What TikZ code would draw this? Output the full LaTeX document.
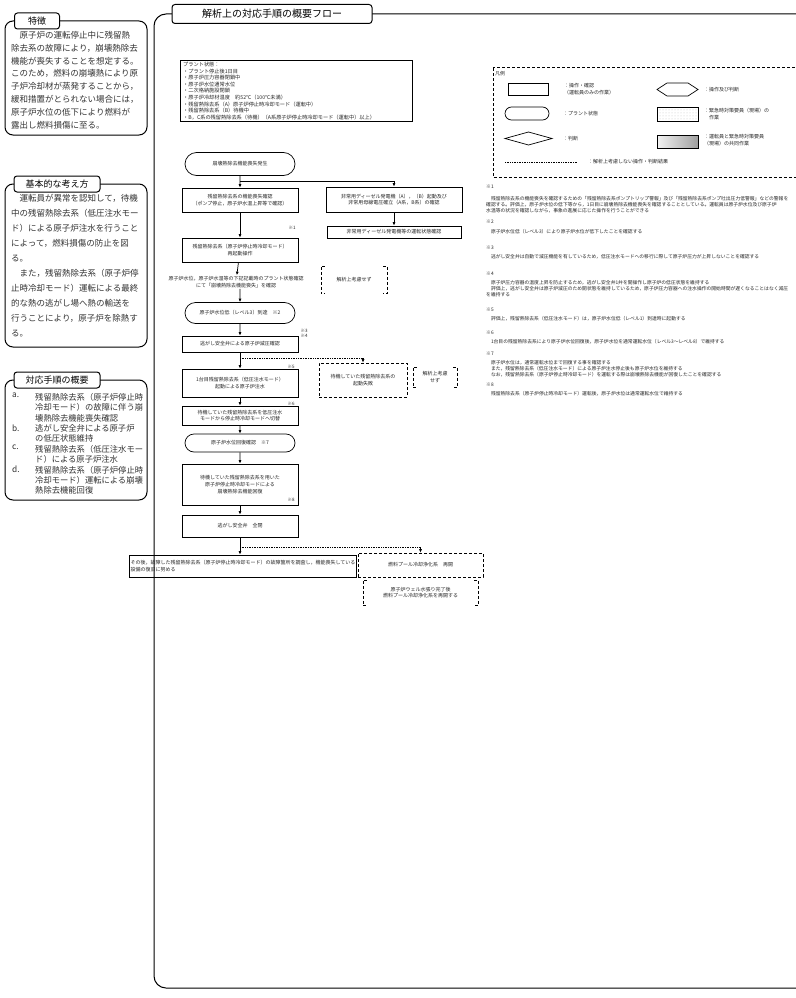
\documentclass[tikz,border=0pt]{standalone}
\usepackage{fontspec}
\setmainfont{Noto Sans CJK JP}
\usetikzlibrary{arrows.meta,shapes.geometric,shapes.misc,patterns}
\begin{document}
\begin{tikzpicture}[x=1pt,y=-1pt,
  panel/.style={draw,line width=1pt,rounded corners=8pt},
  tabbox/.style={draw,fill=white,line width=1pt,rounded corners=3pt,inner sep=0pt,font=\fontsize{9}{10}\selectfont},
  ptext/.style={anchor=north west,align=left,inner sep=0pt,text=black!80,font=\fontsize{8.5}{13}\selectfont},
  fbox/.style={draw,line width=0.7pt,align=center,inner sep=1pt,text=black!85,font=\fontsize{5}{6.6}\selectfont},
  stad/.style={draw,line width=0.7pt,rounded rectangle,minimum width=112pt,align=center,inner sep=1pt,text=black!85,font=\fontsize{5}{6.6}\selectfont},
  dbox/.style={draw,densely dashed,line width=0.6pt,align=center,inner sep=1pt,text=black!85,font=\fontsize{5}{6.6}\selectfont},
  brtext/.style={align=center,inner sep=1pt,text=black!85,font=\fontsize{5}{6.6}\selectfont},
  brk/.style={densely dashed,line width=0.6pt},
  arr/.style={-{Latex[length=3.5pt,width=3pt]},line width=0.7pt},
  darr/.style={-{Latex[length=3.5pt,width=3pt]},line width=0.7pt,densely dotted},
  lbl/.style={inner sep=0pt,text=black!85,font=\fontsize{4.5}{5}\selectfont},
  note/.style={anchor=north west,align=left,inner sep=0pt,text=black!85,font=\fontsize{4.8}{6}\selectfont},
  lgtext/.style={anchor=west,align=left,inner sep=0pt,text=black!85,font=\fontsize{5}{6.5}\selectfont}
]
\useasboundingbox (0,0) rectangle (795,998);
\fill[white] (0,0) rectangle (795,998);

% ---------- left panel 1 ----------
\draw[panel] (5,21) rectangle (147,135);
\node[tabbox,minimum width=45pt,minimum height=16pt] (tab1) at (37,21) {特徴};
\node[ptext,font=\fontsize{8.5}{12.8}\selectfont] (p1) at (11,31) {　原子炉の運転停止中に残留熱\\除去系の故障により，崩壊熱除去\\機能が喪失することを想定する。\\このため，燃料の崩壊熱により原\\子炉冷却材が蒸発することから，\\緩和措置がとられない場合には，\\原子炉水位の低下により燃料が\\露出し燃料損傷に至る。};

% ---------- left panel 2 ----------
\draw[panel] (5,184) rectangle (147,347);
\node[tabbox,minimum width=86pt,minimum height=16pt] (tab2) at (57,184) {基本的な考え方};
\node[ptext,font=\fontsize{8.5}{15}\selectfont] (p2) at (11,194) {　運転員が異常を認知して，待機\\中の残留熱除去系（低圧注水モー\\ド）による原子炉注水を行うこと\\によって，燃料損傷の防止を図\\る。\\　また，残留熱除去系（原子炉停\\止時冷却モード）運転による最終\\的な熱の逃がし場へ熱の輸送を\\行うことにより，原子炉を除熱す\\る。};

% ---------- left panel 3 ----------
\draw[panel] (5,380) rectangle (147,500);
\node[tabbox,minimum width=86pt,minimum height=16pt] (tab3) at (57,380) {対応手順の概要};
\node[ptext,font=\fontsize{8.3}{10.4}\selectfont] (p3a) at (12,393) {a.};
\node[ptext,font=\fontsize{8.3}{10.4}\selectfont] (p3at) at (35,393) {残留熱除去系（原子炉停止時\\冷却モード）の故障に伴う崩\\壊熱除去機能喪失確認};
\node[ptext,font=\fontsize{8.3}{10.4}\selectfont] (p3b) at (12,424.2) {b.};
\node[ptext,font=\fontsize{8.3}{10.4}\selectfont] (p3bt) at (35,424.2) {逃がし安全弁による原子炉\\の低圧状態維持};
\node[ptext,font=\fontsize{8.3}{10.4}\selectfont] (p3c) at (12,445) {c.};
\node[ptext,font=\fontsize{8.3}{10.4}\selectfont] (p3ct) at (35,445) {残留熱除去系（低圧注水モー\\ド）による原子炉注水};
\node[ptext,font=\fontsize{8.3}{10.4}\selectfont] (p3d) at (12,465.8) {d.};
\node[ptext,font=\fontsize{8.3}{10.4}\selectfont] (p3dt) at (35,465.8) {残留熱除去系（原子炉停止時\\冷却モード）運転による崩壊\\熱除去機能回復};

% ---------- main frame ----------
\draw[line width=1pt,rounded corners=12pt] (154,14) rectangle (810,988);
\node[tabbox,minimum width=200pt,minimum height=19pt,font=\fontsize{10}{12}\selectfont] (title) at (272,14) {解析上の対応手順の概要フロー};

% plant state box
\node[draw,line width=0.7pt,minimum width=232pt,minimum height=61pt,inner sep=0pt] (plant) at (296,90.5) {};
\node[note,font=\fontsize{5.2}{6.6}\selectfont] (plantt) at (183,62) {プラント状態：\\・プラント停止後1日目\\・原子炉圧力容器閉鎖中\\・原子炉水位通常水位\\・二次格納施設閉鎖\\・原子炉冷却材温度　約52℃（100℃未満）\\・残留熱除去系（A）原子炉停止時冷却モード（運転中）\\・残留熱除去系（B）待機中\\・B，C系の残留熱除去系（待機）（A系原子炉停止時冷却モード（運転中）以上）};

% flow
\node[stad,minimum height=23pt] (s1) at (240,164) {崩壊熱除去機能喪失発生};
\node[fbox,minimum width=116pt,minimum height=24pt] (b2) at (240,200) {残留熱除去系の機能喪失確認\\（ポンプ停止，原子炉水温上昇等で確認）};
\node[fbox,minimum width=136pt,minimum height=25pt] (b2r) at (394,199.5) {非常用ディーゼル発電機（A），（B）起動及び\\非常用母線電圧確立（A系，B系）の確認};
\node[fbox,minimum width=134pt,minimum height=12pt] (b2r2) at (394,232) {非常用ディーゼル発電機等の運転状態確認};
\node[fbox,minimum width=116pt,minimum height=24pt] (b3) at (240,250) {残留熱除去系（原子炉停止時冷却モード）\\再起動操作};
\node[lbl] (n1) at (292,228) {※1};
\node[brtext] (t4) at (236,282) {原子炉水位，原子炉水温等の下記記載時のプラント状態確認\\にて「崩壊熱除去機能喪失」を確認};
\node[brtext,minimum width=66pt,minimum height=27pt] (br1) at (354,279.5) {解析上考慮せず};
\draw[brk] ([xshift=4pt]br1.north west) -- (br1.north west) -- (br1.south west) -- ([xshift=4pt]br1.south west);
\draw[brk] ([xshift=-4pt]br1.north east) -- (br1.north east) -- (br1.south east) -- ([xshift=-4pt]br1.south east);
\node[stad,minimum height=21pt] (s5) at (240,313) {原子炉水位低（レベル3）到達　※2};
\node[fbox,minimum width=116pt,minimum height=16pt] (b6) at (240,344) {逃がし安全弁による原子炉減圧確認};
\node[lbl,align=left] (n34) at (304,333) {※3\\※4};
\node[dbox,minimum width=88pt,minimum height=34pt] (db1) at (363,380) {待機していた残留熱除去系の\\起動失敗};
\node[brtext,minimum width=44pt,minimum height=20pt] (br2) at (435,377) {解析上考慮\\せず};
\draw[brk] ([xshift=4pt]br2.north west) -- (br2.north west) -- (br2.south west) -- ([xshift=4pt]br2.south west);
\draw[brk] ([xshift=-4pt]br2.north east) -- (br2.north east) -- (br2.south east) -- ([xshift=-4pt]br2.south east);
\node[fbox,minimum width=116pt,minimum height=28pt] (b7) at (240,383) {1台目残留熱除去系（低圧注水モード）\\起動による原子炉注水};
\node[lbl] (n5) at (291,367) {※5};
\node[fbox,minimum width=116pt,minimum height=19pt] (b8) at (240,415.5) {待機していた残留熱除去系を低圧注水\\モードから停止時冷却モードへ切替};
\node[lbl] (n6) at (291,404) {※6};
\node[stad,minimum height=18pt] (s9) at (240,443) {原子炉水位回復確認　※7};
\node[fbox,minimum width=116pt,minimum height=41pt] (b10) at (240,484.5) {待機していた残留熱除去系を用いた\\原子炉停止時冷却モードによる\\崩壊熱除去機能回復};
\node[lbl] (n8) at (291,500) {※8};
\node[fbox,minimum width=116pt,minimum height=22pt] (b11) at (240,526) {逃がし安全弁　全閉};
\node[fbox,minimum width=172pt,minimum height=22pt,align=left] (b12) at (243,566) {その後，故障した残留熱除去系（原子炉停止時冷却モード）の故障箇所を調査し，機能喪失している\\設備の復旧に努める};
\node[dbox,minimum width=125pt,minimum height=24pt] (db2) at (420.5,565) {燃料プール冷却浄化系　再開};
\node[brtext,minimum width=115pt,minimum height=25pt] (br3) at (420.5,592.5) {原子炉ウェル水張り完了後\\燃料プール冷却浄化系を再開する};
\draw[brk] ([xshift=4pt]br3.north west) -- (br3.north west) -- (br3.south west) -- ([xshift=4pt]br3.south west);
\draw[brk] ([xshift=-4pt]br3.north east) -- (br3.north east) -- (br3.south east) -- ([xshift=-4pt]br3.south east);

% connectors
\coordinate (j1) at (240,181);
\coordinate (j2) at (240,358);
\coordinate (j3) at (240,547);
\draw[arr] (s1) -- (b2);
\draw[arr] (j1) -| (b2r.north);
\draw[arr] (b2r) -- (b2r2);
\draw[arr] (b2) -- (b3);
\draw[arr] (b3) -- (t4);
\draw[arr] (t4.south -| s5.north) -- (s5);
\draw[arr] (s5) -- (b6);
\draw[darr] (j2) -| (db1.north);
\draw[arr] (b6) -- (b7);
\draw[arr] (b7) -- (b8);
\draw[arr] (b8) -- (s9);
\draw[arr] (s9) -- (b10);
\draw[arr] (b10) -- (b11);
\draw[arr] (b11.south) -- (b11.south |- b12.north);
\draw[darr] (j3) -| (db2.north);

% ---------- legend ----------
\draw[line width=1pt,dash pattern=on 3pt off 2pt] (493,68) rectangle (810,177);
\node[lgtext] (lg) at (495,74) {凡例};
\draw[line width=0.7pt] (508,83) rectangle (548,95);
\node[lgtext] (lg1) at (564,89) {：操作・確認\\（運転員のみの作業）};
\draw[line width=0.7pt] (657,89.5) -- (667,83) -- (688,83) -- (698,89.5) -- (688,96) -- (667,96) -- cycle;
\node[lgtext] (lg2) at (704,89.5) {：操作及び判断};
\node[draw,line width=0.7pt,rounded rectangle,minimum width=44pt,minimum height=13pt,inner sep=0pt] (lgs) at (527,113.5) {};
\node[lgtext] (lg3) at (563,114) {：プラント状態};
\draw[line width=0.7pt,pattern=dots,pattern color=gray!45] (657,107) rectangle (698,121);
\node[lgtext] (lg4) at (704,114) {：緊急時対策要員（現場）の\\　作業};
\draw[line width=0.7pt] (505,138.5) -- (528.5,132) -- (552,138.5) -- (528.5,145) -- cycle;
\node[lgtext] (lg5) at (563,138.5) {：判断};
\shade[left color=gray!10,right color=gray!75] (657,135) rectangle (698,148);
\draw[line width=0.7pt] (657,135) rectangle (698,148);
\node[lgtext] (lg6) at (704,140) {：運転員と緊急時対策要員\\（現場）の共同作業};
\draw[line width=0.7pt,densely dotted] (505,162) -- (578,162);
\node[lgtext] (lg7) at (588,162) {：解析上考慮しない操作・判断結果};

% ---------- notes ----------
\node[note] (m1) at (486,185) {※1};
\node[note] (m1t) at (486,196) {　残留熱除去系の機能喪失を確認するための「残留熱除去系ポンプトリップ警報」及び「残留熱除去系ポンプ吐出圧力低警報」などの警報を\\確認する。評価上，原子炉水位の低下等から，1日目に崩壊熱除去機能喪失を確認することとしている。運転員は原子炉水位及び原子炉\\水温等の状況を確認しながら，事象の進展に応じた操作を行うことができる};
\node[note] (m2) at (486,220) {※2};
\node[note] (m2t) at (486,229) {　原子炉水位低（レベル3）により原子炉水位が低下したことを確認する};
\node[note] (m3) at (486,246) {※3};
\node[note] (m3t) at (486,254) {　逃がし安全弁は自動で減圧機能を有しているため，低圧注水モードへの移行に際して原子炉圧力が上昇しないことを確認する};
\node[note] (m4) at (486,272) {※4};
\node[note] (m4t) at (486,280) {　原子炉圧力容器の温度上昇を防止するため，逃がし安全弁1弁を開操作し原子炉の低圧状態を維持する\\　評価上，逃がし安全弁は原子炉減圧のため開状態を維持しているため，原子炉圧力容器への注水操作の開始時間が遅くなることはなく減圧\\を維持する};
\node[note] (m5) at (486,308) {※5};
\node[note] (m5t) at (486,316) {　評価上，残留熱除去系（低圧注水モード）は，原子炉水位低（レベル1）到達時に起動する};
\node[note] (m6) at (486,331) {※6};
\node[note] (m6t) at (486,339) {　1台目の残留熱除去系により原子炉水位回復後，原子炉水位を通常運転水位（レベル3～レベル8）で維持する};
\node[note] (m7) at (486,352) {※7};
\node[note] (m7t) at (486,360) {　原子炉水位は，通常運転水位まで回復する事を確認する\\　また，残留熱除去系（低圧注水モード）による原子炉注水停止後も原子炉水位を維持する\\　なお，残留熱除去系（原子炉停止時冷却モード）を運転する際は崩壊熱除去機能が回復したことを確認する};
\node[note] (m8) at (486,383) {※8};
\node[note] (m8t) at (486,391) {　残留熱除去系（原子炉停止時冷却モード）運転後，原子炉水位は通常運転水位で維持する};
\end{tikzpicture}
\end{document}
